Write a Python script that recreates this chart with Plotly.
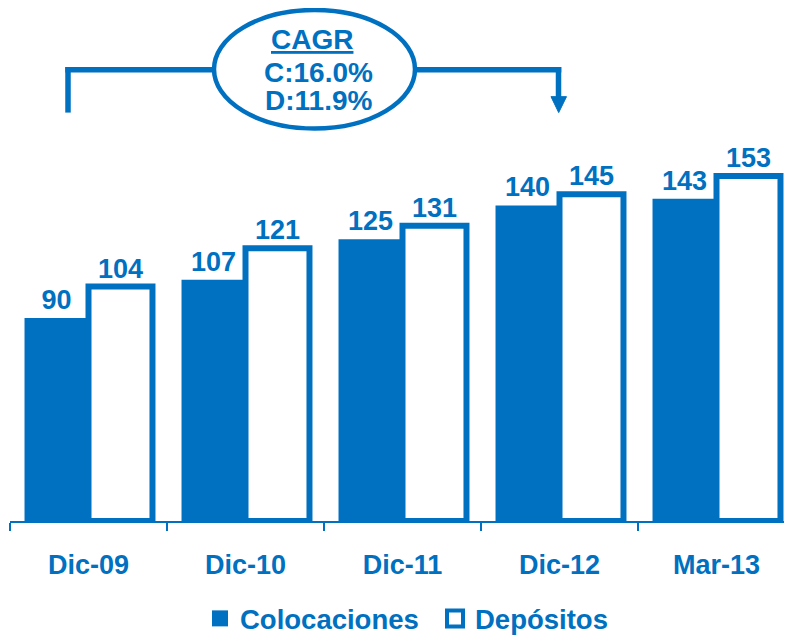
import plotly.graph_objects as go

categories = ["Dic-09", "Dic-10", "Dic-11", "Dic-12", "Mar-13"]
colocaciones = [90, 107, 125, 140, 143]
depositos = [104, 121, 131, 145, 153]
cagr_title = "CAGR"
cagr_c = "C:16.0%"
cagr_d = "D:11.9%"

BLUE = "#0070C0"
FONT = "Liberation Sans, Arial, sans-serif"

W, H = 792, 635
OFF = 8  # page body margin
# plot area in screen coordinates
SX0, SX1 = 10, 795
SY_TOP, SY_BASE = 8, 523
ML = SX0 - OFF
MR = W - (SX1 - OFF)
MT = SY_TOP - OFF
MB = H - (SY_BASE - OFF)
PW = SX1 - SX0
PH = SY_BASE - SY_TOP
PX_PER_UNIT = 2.263


def px(x):
    return (x - SX0) / PW


def py(y):
    return (SY_BASE - y) / PH


def bold(size):
    return dict(family=FONT, size=size, color=BLUE, weight="bold")


fig = go.Figure()
fig.add_trace(go.Bar(
    name="Colocaciones", x=categories, y=colocaciones, showlegend=False,
    marker=dict(color=BLUE, line=dict(width=0)),
    text=colocaciones, textposition="outside", cliponaxis=False,
    textfont=bold(27),
))
fig.add_trace(go.Bar(
    name="Depósitos", x=categories, y=depositos, showlegend=False,
    marker=dict(color="white", line=dict(width=6, color=BLUE)),
    text=depositos, textposition="outside", cliponaxis=False,
    textfont=bold(27),
))
# legend entries
fig.add_trace(go.Scatter(
    name="Colocaciones", x=[None], y=[None], mode="markers",
    marker=dict(symbol="square", size=18, color=BLUE, line=dict(width=0)),
))
fig.add_trace(go.Scatter(
    name="Depósitos", x=[None], y=[None], mode="markers",
    marker=dict(symbol="square", size=16, color="white", line=dict(width=4, color=BLUE)),
))

shapes = []
LW = 5.5
shapes.append(dict(type="line", xref="paper", yref="paper",
                   x0=px(68), y0=py(113), x1=px(68), y1=py(67.3),
                   line=dict(color=BLUE, width=LW)))
shapes.append(dict(type="line", xref="paper", yref="paper",
                   x0=px(65.3), y0=py(70), x1=px(214), y1=py(70),
                   line=dict(color=BLUE, width=LW)))
shapes.append(dict(type="line", xref="paper", yref="paper",
                   x0=px(414), y0=py(70), x1=px(561.3), y1=py(70),
                   line=dict(color=BLUE, width=LW)))
shapes.append(dict(type="line", xref="paper", yref="paper",
                   x0=px(558.5), y0=py(67.3), x1=px(558.5), y1=py(100),
                   line=dict(color=BLUE, width=LW)))
shapes.append(dict(type="path", xref="paper", yref="paper",
                   path=f"M {px(551)} {py(97)} L {px(566.5)} {py(97)} L {px(558.7)} {py(113)} Z",
                   fillcolor=BLUE, line=dict(color=BLUE, width=1)))
shapes.append(dict(type="circle", xref="paper", yref="paper",
                   x0=px(214), x1=px(415), y0=py(129), y1=py(10),
                   line=dict(color=BLUE, width=4.5), fillcolor="white"))

annotations = [
    dict(xref="paper", yref="paper", x=px(312), y=py(40), text=f"<u>{cagr_title}</u>",
         xanchor="center", yanchor="middle", showarrow=False, font=bold(28)),
    dict(xref="paper", yref="paper", x=px(318), y=py(73), text=cagr_c,
         xanchor="center", yanchor="middle", showarrow=False, font=bold(28)),
    dict(xref="paper", yref="paper", x=px(318), y=py(101), text=cagr_d,
         xanchor="center", yanchor="middle", showarrow=False, font=bold(28)),
]

fig.update_layout(
    width=W, height=H,
    margin=dict(l=ML, r=MR, t=MT, b=MB),
    paper_bgcolor="white", plot_bgcolor="white",
    barmode="group", bargap=0.185, bargroupgap=0,
    shapes=shapes, annotations=annotations,
    showlegend=True,
    legend=dict(orientation="h", x=px(435), xanchor="center", y=py(621), yanchor="middle",
                font=bold(27.5), itemwidth=30, traceorder="normal",
                entrywidth=190, entrywidthmode="pixels",
                tracegroupgap=0, itemclick=False),
    xaxis=dict(showline=True, linecolor=BLUE, linewidth=2, ticks="outside",
               tickson="boundaries", ticklen=8, tickcolor=BLUE, tickwidth=1.5,
               tickfont=bold(27), ticklabelstandoff=19,
               showgrid=False, zeroline=False),
    yaxis=dict(range=[0, PH / PX_PER_UNIT], visible=False, showgrid=False, zeroline=False),
)

fig.write_html("out.html")
